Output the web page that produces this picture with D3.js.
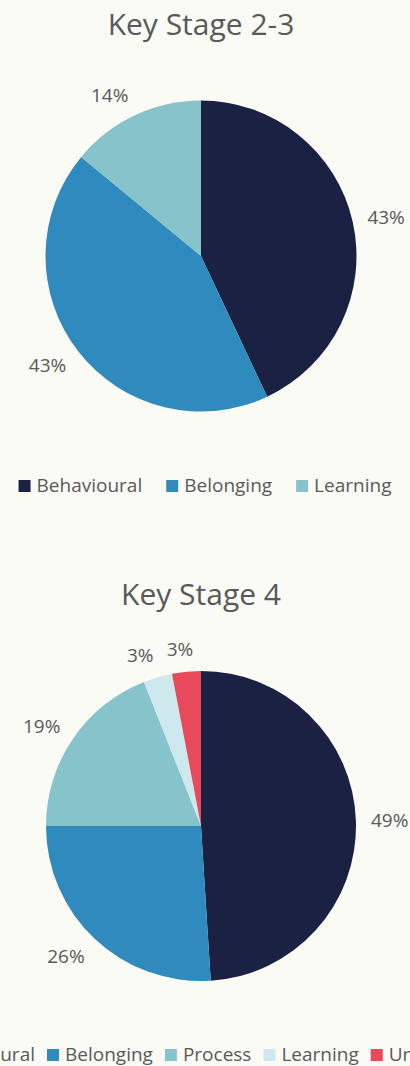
<!DOCTYPE html>
<html>
  <head>
    <meta charset="UTF-8">
    <title>Key Stage pies</title>
    <script src="https://cdnjs.cloudflare.com/ajax/libs/d3/7.8.5/d3.min.js"></script>
    <style>
      body { margin: 0; background: #fbfbf6; overflow: hidden; }
      text { font-family: "Open Sans", sans-serif; fill: #595959; }
      .title { font-size: 30px; text-anchor: middle; }
      .pct { font-size: 19px; text-anchor: middle; }
      .legend-label { font-size: 19px; }
    </style>
  </head>
  <body>
    <div id="chart"></div>
    <script>
      // data
      const ks23Categories = ["Behavioural", "Belonging", "Learning"];
      const ks23Values = [43, 43, 14];
      const ks4Categories = ["Behavioural", "Belonging", "Process", "Learning", "Unknown"];
      const ks4Values = [49, 26, 19, 3, 3];

      const colour = d3.scaleOrdinal()
        .domain(["Behavioural", "Belonging", "Process", "Learning", "Unknown"])
        .range(["#1b2142", "#2f8bbd", "#86c3ca", "#cfe8ee", "#e84a5c"]);
      // Learning is the lighter teal in the first chart (no Process there)
      const colour23 = d3.scaleOrdinal()
        .domain(ks23Categories)
        .range(["#1b2142", "#2f8bbd", "#86c3ca"]);

      const width = 410, height = 1066;
      const svg = d3.select("#chart").append("svg")
        .attr("width", width)
        .attr("height", height);

      const drawPie = (opts) => {
        const g = svg.append("g");
        g.append("text")
          .attr("class", "title")
          .attr("x", opts.cx)
          .attr("y", opts.titleY)
          .text(opts.title);

        const data = opts.categories.map((c, i) => ({name: c, value: opts.values[i]}));
        const arcs = d3.pie().sort(null).value(d => d.value)(data);
        const arc = d3.arc().innerRadius(0).outerRadius(opts.r);

        const pie = g.append("g").attr("transform", `translate(${opts.cx},${opts.cy})`);
        pie.selectAll("path")
          .data(arcs).enter().append("path")
          .attr("d", arc)
          .attr("fill", d => opts.colour(d.data.name));

        // labels just outside the end of each slice
        pie.selectAll("text.pct")
          .data(arcs).enter().append("text")
          .attr("class", "pct")
          .text(d => d.data.value + "%")
          .each(function(d) {
            const a = (d.startAngle + d.endAngle) / 2;
            const s = Math.sin(a), c = Math.cos(a);
            const hw = this.getComputedTextLength() / 2, hh = 8;
            const rr = opts.r + 15;
            const x = rr * s + hw * Math.sign(s) * Math.min(1, Math.abs(s) * 4);
            const y = -rr * c - hh * c;
            d3.select(this)
              .attr("x", x)
              .attr("y", y + 7);
          });

        // legend
        const lg = g.append("g").attr("transform", `translate(0,${opts.legendY})`);
        const items = lg.selectAll("g").data(opts.categories).enter().append("g");
        items.append("rect")
          .attr("width", 12).attr("height", 12)
          .attr("y", -12)
          .attr("fill", d => opts.colour(d));
        items.append("text")
          .attr("class", "legend-label")
          .attr("x", 18)
          .attr("y", 0)
          .text(d => d);
        let x = 0;
        const widths = [];
        items.each(function() {
          widths.push(d3.select(this).select("text").node().getComputedTextLength() + 18);
        });
        const offsets = widths.map(w => { const o = x; x += w + opts.legendGap; return o; });
        const total = x - opts.legendGap;
        const start = opts.legendStart !== undefined
          ? opts.legendStart(offsets)
          : opts.cx + 4 - total / 2;
        items.attr("transform", (d, i) => `translate(${start + offsets[i]},0)`);
      };

      drawPie({
        title: "Key Stage 2-3", titleY: 35,
        cx: 201, cy: 256, r: 155.5,
        categories: ks23Categories, values: ks23Values, colour: colour23,
        legendY: 492, legendGap: 24
      });

      drawPie({
        title: "Key Stage 4", titleY: 605,
        cx: 201, cy: 826, r: 155,
        categories: ks4Categories, values: ks4Values, colour: colour,
        legendY: 1061, legendGap: 12,
        // legend is wider than the view, so it overflows; Belonging square sits at x=47
        legendStart: offsets => 47 - offsets[1]
      });
    </script>
  </body>
</html>
